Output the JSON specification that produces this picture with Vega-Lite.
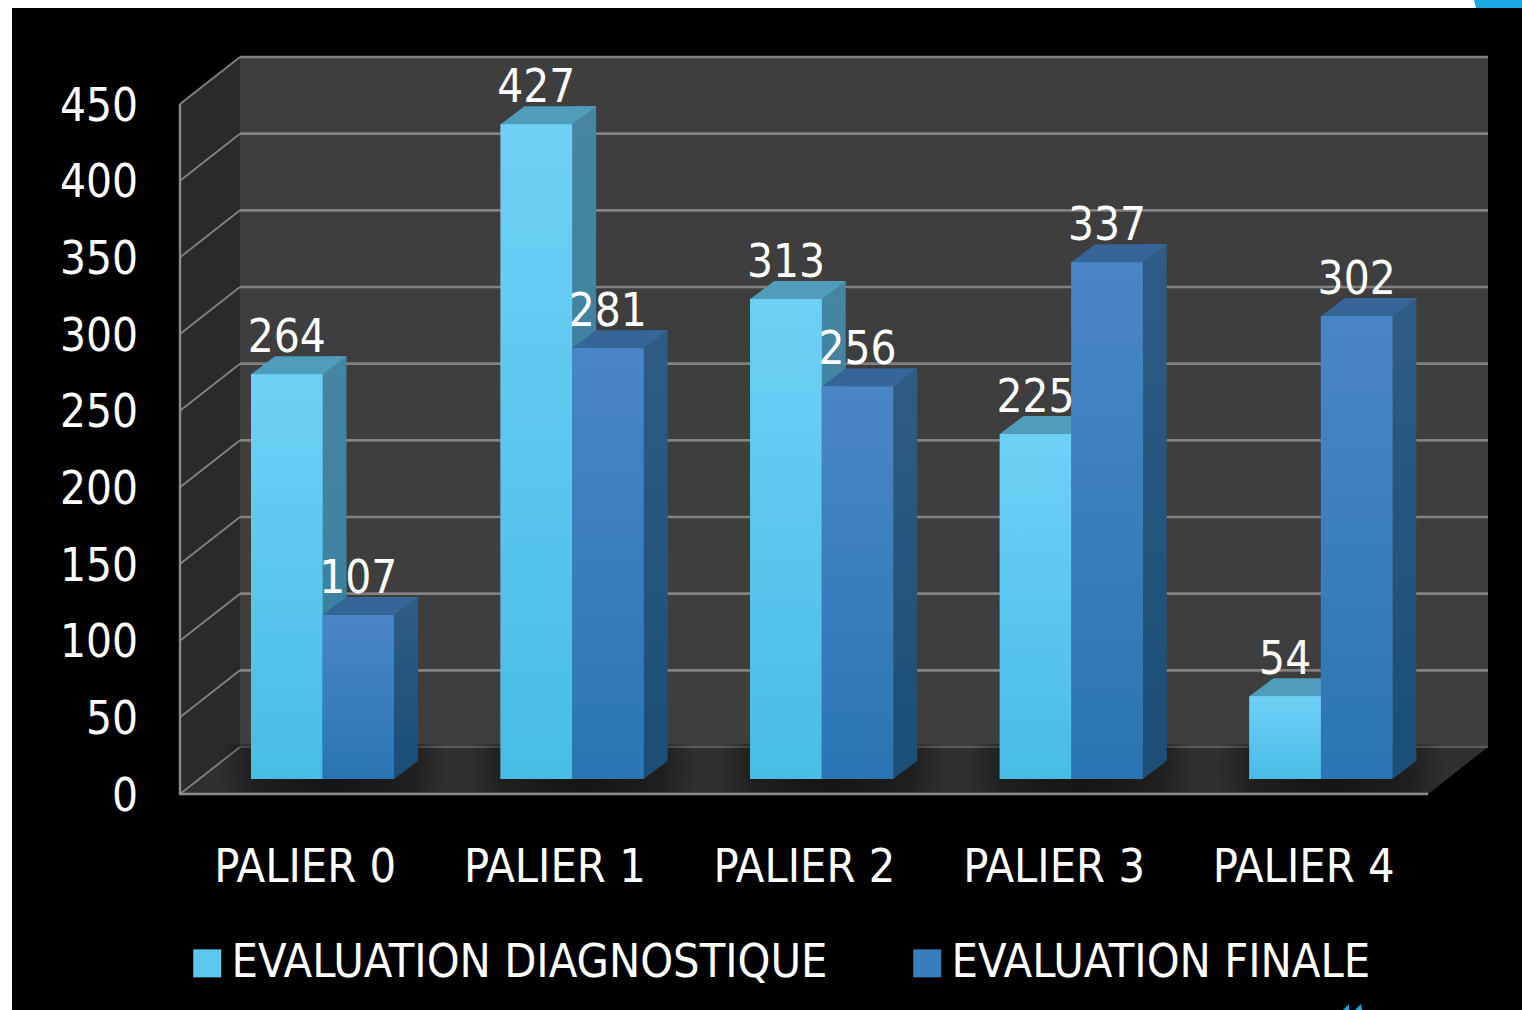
{
"$schema":"https://vega.github.io/schema/vega-lite/v6.json",
"width":1510,"height":1002,
"autosize":{"type":"none"},
"padding":{"left":12,"top":8,"right":0,"bottom":0},
"background":"#ffffff",
"view":{"fill":"#000000","stroke":null},
"config":{"font":"DejaVu Sans Condensed"},
"datasets":{
"bars":[
{"palier":"PALIER 0","serie":"EVALUATION DIAGNOSTIQUE","value":264},
{"palier":"PALIER 0","serie":"EVALUATION FINALE","value":107},
{"palier":"PALIER 1","serie":"EVALUATION DIAGNOSTIQUE","value":427},
{"palier":"PALIER 1","serie":"EVALUATION FINALE","value":281},
{"palier":"PALIER 2","serie":"EVALUATION DIAGNOSTIQUE","value":313},
{"palier":"PALIER 2","serie":"EVALUATION FINALE","value":256},
{"palier":"PALIER 3","serie":"EVALUATION DIAGNOSTIQUE","value":225},
{"palier":"PALIER 3","serie":"EVALUATION FINALE","value":337},
{"palier":"PALIER 4","serie":"EVALUATION DIAGNOSTIQUE","value":54},
{"palier":"PALIER 4","serie":"EVALUATION FINALE","value":302}
],
"ticks":[{"t":0},{"t":50},{"t":100},{"t":150},{"t":200},{"t":250},{"t":300},{"t":350},{"t":400},{"t":450}],
"paliers":[{"palier":"PALIER 0"},{"palier":"PALIER 1"},{"palier":"PALIER 2"},{"palier":"PALIER 3"},{"palier":"PALIER 4"}]
},
"layer":[
{"data":{"values":[{"a":"wall"}]},
 "mark":{"type":"point","filled":true,"opacity":1,"size":4,"fill":"#3e3e3e","strokeWidth":0,"shape":"M-82.5,-47L1165.5,-47L1165.5,-737L-82.5,-737Z"},
 "encoding":{"x":{"datum":"PALIER 0","type":"nominal","title":null,"scale":{"domain":["PALIER 0","PALIER 1","PALIER 2","PALIER 3","PALIER 4"],"range":[185.7,1433.7],"paddingInner":0.427,"paddingOuter":0.2135},"axis":{"orient":"bottom","offset":-143,"zindex":1,"domain":false,"ticks":false,"labelPadding":0,"labelOffset":-17.2,"labelBaseline":"middle","labelAngle":0,"labelFontSize":46.5,"labelLimit":400,"labelOverlap":false,"labelColor":"#ffffff","labelFont":"DejaVu Sans Condensed","title":null,"grid":false}},
 "y":{"datum":0,"type":"quantitative","title":null,"scale":{"domain":[0,450],"range":[786,96],"nice":false,"zero":true},"axis":{"orient":"left","values":[0,50,100,150,200,250,300,350,400,450],"offset":-125.5,"zindex":1,"domain":false,"ticks":false,"labelPadding":0,"labelOffset":2,"labelFontSize":45.5,"labelColor":"#ffffff","labelFont":"DejaVu Sans Condensed","title":null,"grid":false}}}},
{"data":{"values":[{"a":"left"}]},
 "mark":{"type":"point","filled":true,"opacity":1,"size":4,"fill":"#2a2a2a","strokeWidth":0,"shape":"M-142.5,0L-82.5,-47L-82.5,-737L-142.5,-690Z"},
 "encoding":{"x":{"datum":"PALIER 0","type":"nominal"},"y":{"datum":0,"type":"quantitative"}}},
{"data":{"values":[{"a":"floor"}]},
 "mark":{"type":"point","filled":true,"opacity":1,"size":4,"fill":"#303030","strokeWidth":0,"shape":"M-142.5,0L-82.5,-47L1165.5,-47L1105.5,0Z"},
 "encoding":{"x":{"datum":"PALIER 0","type":"nominal"},"y":{"datum":0,"type":"quantitative"}}},
{"data":{"name":"ticks"},"transform":[{"filter":"datum.t>0"}],
 "mark":{"type":"point","filled":false,"opacity":1,"size":4,"stroke":"#828282","strokeWidth":2.6,"shape":"M-82.5,-47L1165.5,-47"},
 "encoding":{"x":{"datum":"PALIER 0","type":"nominal"},"y":{"field":"t","type":"quantitative"}}},
{"data":{"name":"ticks"},"transform":[{"filter":"datum.t==0"}],
 "mark":{"type":"point","filled":false,"opacity":1,"size":4,"stroke":"#828282","strokeWidth":1.2,"shape":"M-82.5,-47L1165.5,-47"},
 "encoding":{"x":{"datum":"PALIER 0","type":"nominal"},"y":{"field":"t","type":"quantitative"}}},
{"data":{"name":"ticks"},
 "mark":{"type":"point","filled":false,"opacity":1,"size":4,"stroke":"#828282","strokeWidth":1.8,"shape":"M-142.5,0L-82.5,-47"},
 "encoding":{"x":{"datum":"PALIER 0","type":"nominal"},"y":{"field":"t","type":"quantitative"}}},
{"data":{"values":[{"a":"edge"}]},
 "mark":{"type":"point","filled":false,"opacity":1,"size":4,"stroke":"#8a8a8a","strokeWidth":2.4,"shape":"M-142.5,-690L-142.5,0L1105.5,0"},
 "encoding":{"x":{"datum":"PALIER 0","type":"nominal"},"y":{"datum":0,"type":"quantitative"}}},
{"data":{"values":[{"a":"corner"}]},
 "mark":{"type":"point","filled":true,"opacity":1,"size":4,"fill":"#1aa9e2","strokeWidth":0,"shape":"M1151.5,-794L1200.3,-794L1200.3,-786L1153.5,-786Z M1020.5,216L1026.5,210L1026.5,216Z M1032.5,216L1038.5,210L1039.5,216Z"},
 "encoding":{"x":{"datum":"PALIER 0","type":"nominal"},"y":{"datum":0,"type":"quantitative"}}},
{"data":{"name":"paliers"},
 "mark":{"type":"point","filled":true,"opacity":1,"size":4,"strokeWidth":0,"shape":"M-105,-50L125,-50L125,-2L-105,-2Z","fill":{"gradient":"radial","x1":0.5,"y1":0.5,"r1":0,"x2":0.5,"y2":0.5,"r2":0.5,"stops":[{"offset":0,"color":"rgba(0,0,0,0.6)"},{"offset":0.7,"color":"rgba(0,0,0,0.35)"},{"offset":1,"color":"rgba(0,0,0,0)"}]}},
 "encoding":{"x":{"field":"palier","type":"nominal"},"y":{"datum":0,"type":"quantitative"}}},
{"data":{"name":"bars"},"transform":[{"filter":"datum.serie=='EVALUATION DIAGNOSTIQUE'"}],
 "mark":{"type":"bar","width":24,"xOffset":12,"yOffset":-33,"y2Offset":-33,"fill":{"gradient":"linear","x1":0,"y1":0,"x2":0,"y2":1,"stops":[{"offset":0,"color":"#4785a2"},{"offset":1,"color":"#33809f"}]}},
 "encoding":{"x":{"field":"palier","type":"nominal"},"y":{"field":"value","type":"quantitative"},"y2":{"datum":0}}},
{"data":{"name":"bars"},"transform":[{"filter":"datum.serie=='EVALUATION FINALE'"}],
 "mark":{"type":"bar","width":24,"xOffset":83.5,"yOffset":-33,"y2Offset":-33,"fill":{"gradient":"linear","x1":0,"y1":0,"x2":0,"y2":1,"stops":[{"offset":0,"color":"#2f5c85"},{"offset":1,"color":"#1b4f77"}]}},
 "encoding":{"x":{"field":"palier","type":"nominal"},"y":{"field":"value","type":"quantitative"},"y2":{"datum":0}}},
{"data":{"name":"bars"},
 "mark":{"type":"point","filled":true,"opacity":1,"size":4,"strokeWidth":0,"yOffset":-15,"shape":"M35.75,0L59.75,-18L35.75,-18Z"},
 "encoding":{"x":{"field":"palier","type":"nominal"},"xOffset":{"field":"serie"},"y":{"datum":0,"type":"quantitative"},"fill":{"condition":{"test":"datum.serie=='EVALUATION FINALE'","value":"#1b4f77"},"value":"#33809f"}}},
{"data":{"name":"bars"},
 "mark":{"type":"point","filled":true,"opacity":1,"size":4,"strokeWidth":0,"yOffset":-15,"shape":"M-35.75,0L35.75,0L59.75,-18L-11.75,-18Z"},
 "encoding":{"x":{"field":"palier","type":"nominal"},"xOffset":{"field":"serie"},"y":{"field":"value","type":"quantitative"},"fill":{"condition":{"test":"datum.serie=='EVALUATION FINALE'","value":"#366699"},"value":"#4f9dbb"}}},
{"data":{"name":"bars"},
 "mark":{"type":"bar","yOffset":-15,"y2Offset":-15},
 "encoding":{
  "x":{"field":"palier","type":"nominal"},
  "xOffset":{"field":"serie"},
  "y":{"field":"value","type":"quantitative"},
  "y2":{"datum":0},
  "fill":{"field":"serie","type":"nominal","scale":{"domain":["EVALUATION DIAGNOSTIQUE","EVALUATION FINALE"],"range":["#5cc8ee","#3a7dbc"]},
  "legend":{"orient":"none","legendX":172,"legendY":932,"direction":"horizontal","title":null,"symbolType":"square","symbolSize":784,"symbolStrokeWidth":0,"labelFontSize":46.5,"labelColor":"#ffffff","labelFont":"DejaVu Sans Condensed","labelLimit":0,"columnPadding":76,"labelOffset":1}}
 }},
{"data":{"name":"bars"},"transform":[{"filter":"datum.serie=='EVALUATION DIAGNOSTIQUE'"}],
 "mark":{"type":"bar","yOffset":-15,"y2Offset":-15,"fill":{"gradient":"linear","x1":0,"y1":0,"x2":0,"y2":1,"stops":[{"offset":0,"color":"#6fd0f6"},{"offset":1,"color":"#47bde6"}]}},
 "encoding":{"x":{"field":"palier","type":"nominal"},"xOffset":{"field":"serie"},"y":{"field":"value","type":"quantitative"},"y2":{"datum":0}}},
{"data":{"name":"bars"},"transform":[{"filter":"datum.serie=='EVALUATION FINALE'"}],
 "mark":{"type":"bar","yOffset":-15,"y2Offset":-15,"fill":{"gradient":"linear","x1":0,"y1":0,"x2":0,"y2":1,"stops":[{"offset":0,"color":"#4a86c6"},{"offset":1,"color":"#2a75b3"}]}},
 "encoding":{"x":{"field":"palier","type":"nominal"},"xOffset":{"field":"serie"},"y":{"field":"value","type":"quantitative"},"y2":{"datum":0}}},
{"data":{"name":"bars"},
 "mark":{"type":"text","yOffset":-37,"baseline":"alphabetic","align":"center","fontSize":45.5,"fill":"#ffffff"},
 "encoding":{"x":{"field":"palier","type":"nominal"},"xOffset":{"field":"serie"},"y":{"field":"value","type":"quantitative"},"text":{"field":"value","type":"quantitative"}}}
]
}
